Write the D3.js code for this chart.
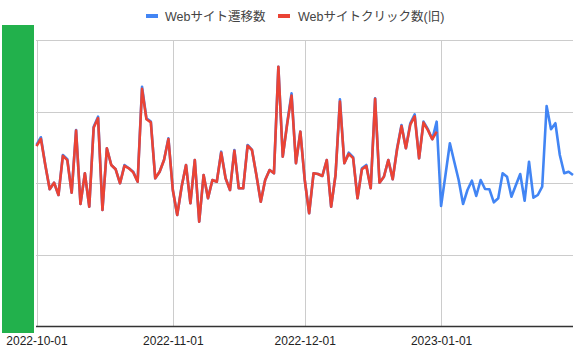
<!DOCTYPE html>
<html>
<head>
<meta charset="utf-8">
<script src="https://cdn.jsdelivr.net/npm/d3@7"></script>
<style>
  html, body { margin: 0; padding: 0; background: #fff; }
  svg { display: block; }
  text { font-family: "Liberation Sans", Arial, "Noto Sans CJK JP", sans-serif; }
</style>
</head>
<body>
<div id="chart"></div>
<script>
// ---- data ----
const startDate = "2022-10-01";
const seriesNames = ["Webサイト遷移数", "Webサイトクリック数(旧)"];
const seriesColors = ["#4285F4", "#EA4335"];
const xTickLabels = ["2022-10-01", "2022-11-01", "2022-12-01", "2023-01-01"];
const yTicks = [0, 50, 100, 150, 200];

// daily values, 2022-10-01 .. 2023-01-31
const blueValues = [
  126.6, 132.0, 112.6, 95.6, 100.2, 91.6, 119.6, 116.6, 93.2, 137.1,
  85.3, 106.8, 83.4, 139.4, 146.4, 81.1, 124.3, 112.6, 109.6, 99.8,
  112.6, 110.3, 107.9, 100.9, 167.3, 145.2, 142.9, 103.3, 107.9, 116.1,
  131.3, 95.1, 77.6, 97.4, 112.6, 85.8, 116.1, 72.9, 105.6, 89.3,
  102.1, 100.9, 121.9, 103.3, 95.1, 123.1, 96.3, 96.3, 126.6, 123.1,
  105.6, 86.9, 102.1, 109.1, 106.8, 181.3, 118.4, 141.8, 162.7, 113.8,
  135.9, 102.1, 78.8, 106.8, 106.3, 104.9, 116.1, 83.4, 105.6, 158.5,
  113.8, 121.2, 118.0, 89.3, 110.3, 112.6, 96.3, 159.2, 100.2, 104.4,
  116.1, 102.6, 124.3, 140.6, 124.3, 141.8, 148.0, 117.3, 142.9, 137.6,
  130.6, 142.9, 83.9, 105.6, 127.8, 114.9, 102.1, 85.3, 95.1, 101.6,
  90.9, 102.1, 95.8, 95.6, 86.5, 89.3, 106.8, 104.4, 90.4, 98.4,
  106.3, 87.6, 114.9, 89.7, 91.6, 97.4, 153.8, 137.6, 141.8, 119.6,
  106.8, 107.9, 105.6
];
const redValues = [
  125.8, 130.8, 112.6, 95.6, 100.2, 91.6, 119.0, 116.0, 93.2, 136.6,
  85.3, 106.8, 83.4, 138.6, 145.4, 81.1, 124.3, 112.6, 109.6, 99.8,
  112.0, 110.3, 107.4, 100.9, 165.8, 144.6, 142.4, 103.3, 107.9, 116.1,
  130.8, 95.1, 77.6, 97.4, 112.6, 85.8, 116.1, 72.9, 105.6, 89.3,
  102.1, 100.9, 121.2, 103.3, 95.1, 122.6, 96.3, 96.3, 126.0, 123.1,
  105.6, 86.9, 102.1, 109.1, 106.8, 181.3, 118.4, 141.0, 161.2, 113.8,
  135.9, 102.1, 78.8, 106.8, 106.3, 104.9, 116.1, 83.4, 105.6, 157.0,
  113.8, 120.4, 117.4, 89.3, 109.6, 111.8, 96.3, 158.8, 100.2, 104.4,
  116.1, 102.6, 123.6, 139.8, 124.3, 140.8, 146.6, 117.3, 142.2, 137.0,
  130.6, 135.9
];

// ---- layout ----
const W = 581, H = 351;
const m = { left: 36.5, right: 573, top: 40, bottom: 326 };

const day = d3.utcDay;
const t0 = new Date(startDate + "T00:00:00Z");
const dates = blueValues.map((_, i) => day.offset(t0, i));

const x = d3.scaleUtc()
  .domain([t0, dates[dates.length - 1]])
  .range([m.left, m.right]);
const y = d3.scaleLinear().domain([0, 200]).range([m.bottom, m.top]);

const svg = d3.select("#chart").append("svg")
  .attr("width", W).attr("height", H);

// horizontal gridlines
svg.append("g").selectAll("line").data(yTicks).join("line")
  .attr("x1", m.left - 0.5).attr("x2", m.right)
  .attr("y1", d => Math.round(y(d)) + 0.5).attr("y2", d => Math.round(y(d)) + 0.5)
  .attr("stroke", "#cccccc").attr("stroke-width", 1);

// vertical gridlines
const xTickDates = xTickLabels.map(s => new Date(s + "T00:00:00Z"));
svg.append("g").selectAll("line").data(xTickDates).join("line")
  .attr("x1", d => Math.round(x(d)) + 0.5).attr("x2", d => Math.round(x(d)) + 0.5)
  .attr("y1", m.top).attr("y2", m.bottom)
  .attr("stroke", "#cccccc").attr("stroke-width", 1);

// y axis labels (hidden under the green block in the reference)
svg.append("g").selectAll("text").data(yTicks).join("text")
  .attr("x", m.left - 6).attr("y", d => y(d) + 4)
  .attr("text-anchor", "end").attr("font-size", 12).attr("fill", "#444")
  .text(d => d);

// x axis
const xAxis = d3.axisBottom(x).tickValues(xTickDates)
  .tickFormat((d, i) => xTickLabels[i]).tickSize(0).tickPadding(10);
const gx = svg.append("g").attr("transform", `translate(0,${m.bottom})`).call(xAxis);
gx.select(".domain").attr("stroke", "#333").attr("stroke-width", 1.3)
  .attr("d", `M${m.left - 0.5},0.5H${m.right}`);
gx.selectAll("text").attr("font-size", 12).attr("fill", "#222")
  .attr("font-family", "\"Liberation Sans\", Arial, sans-serif");

// lines
const line = d3.line()
  .x((d, i) => x(dates[i]))
  .y(d => y(d));

svg.append("path").datum(blueValues)
  .attr("d", line).attr("fill", "none")
  .attr("stroke", seriesColors[0]).attr("stroke-width", 2.6)
  .attr("stroke-linejoin", "round");
svg.append("path").datum(redValues)
  .attr("d", line).attr("fill", "none")
  .attr("stroke", seriesColors[1]).attr("stroke-width", 2.6)
  .attr("stroke-linejoin", "round");

// legend
const legendItems = [
  { name: seriesNames[0], color: seriesColors[0], sx: 146, tx: 165 },
  { name: seriesNames[1], color: seriesColors[1], sx: 278, tx: 298 }
];
const lg = svg.append("g");
lg.selectAll("rect").data(legendItems).join("rect")
  .attr("x", d => d.sx).attr("y", 14).attr("width", 12).attr("height", 4)
  .attr("fill", d => d.color);
lg.selectAll("text").data(legendItems).join("text")
  .attr("x", d => d.tx).attr("y", 20.5)
  .attr("font-size", 12.5).attr("fill", "#444")
  .text(d => d.name);

// green block covering the y axis
svg.append("rect")
  .attr("x", 2).attr("y", 25).attr("width", 32).attr("height", 308)
  .attr("fill", "#22B14C");
</script>
</body>
</html>
